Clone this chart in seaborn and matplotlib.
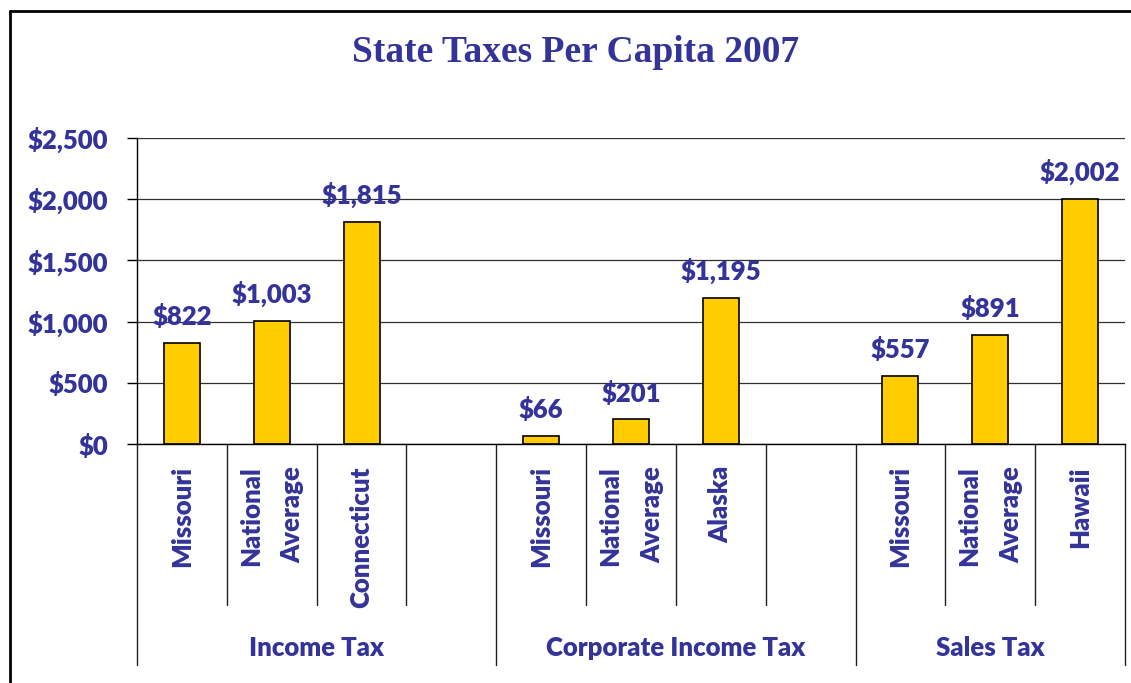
import numpy as np
import pandas as pd
import matplotlib.pyplot as plt
import matplotlib.transforms as mtransforms
from matplotlib.lines import Line2D
import seaborn as sns

# data
groups = ["Income Tax", "Corporate Income Tax", "Sales Tax"]
group_slots = [4, 4, 3]
states = ["Missouri", "National\nAverage", "Connecticut", "",
          "Missouri", "National\nAverage", "Alaska", "",
          "Missouri", "National\nAverage", "Hawaii"]
values = [822, 1003, 1815, np.nan,
          66, 201, 1195, np.nan,
          557, 891, 2002]
yticks = [0, 500, 1000, 1500, 2000, 2500]

navy = "#333399"
gold = "#FFCC00"
fs = 18.5

sns.set_theme(style="white")
plt.rcParams["font.family"] = ["Lato", "DejaVu Sans"]

slot_ids = [f"s{i}" for i in range(len(states))]
df = pd.DataFrame({"slot": slot_ids, "value": values})

fig = plt.figure(figsize=(11.31, 6.83), dpi=100)
ax = fig.add_axes([137 / 1131, 1 - 444 / 683, 988 / 1131, 306 / 683])

sns.barplot(data=df, x="slot", y="value", order=slot_ids, color=gold,
            width=0.4, edgecolor="black", linewidth=1.2, saturation=1, ax=ax)

ax.set_xlim(-0.5, len(states) - 0.5)
ax.set_ylim(0, 2500)
ax.set_yticks(yticks)
ax.set_yticklabels([f"${v:,}" for v in yticks], color=navy,
                   fontsize=fs, fontweight="heavy")
ax.tick_params(axis="y", length=7, width=1, color="black", left=True, pad=14)
ax.set_xticks([])
ax.set_xlabel("")
ax.set_ylabel("")
ax.yaxis.grid(True, color="#303030", linewidth=0.9)
ax.set_axisbelow(True)
for s in ["top", "right"]:
    ax.spines[s].set_visible(False)
ax.spines["left"].set_color("black")
ax.spines["bottom"].set_color("black")
ax.spines["left"].set_linewidth(1)
ax.spines["bottom"].set_linewidth(1)

# value labels
for i, v in enumerate(values):
    if np.isnan(v):
        continue
    ax.annotate(f"${v:,.0f}", (i, v), xytext=(0, 10), textcoords="offset points",
                ha="center", va="bottom", color=navy, fontsize=fs,
                fontweight="heavy")

# category labels and separators below the axis
trans = mtransforms.blended_transform_factory(ax.transData, fig.transFigure)
y_axis = 1 - 444 / 683
y_short = 1 - 605 / 683
y_long = 1 - 665 / 683
for i, lab in enumerate(states):
    if lab:
        ax.text(i, 1 - 466 / 683, lab, transform=trans, rotation=90,
                ha="center", va="top", multialignment="right",
                linespacing=1.9, color=navy, fontsize=fs, fontweight="heavy")

start = 0
bounds = [-0.5]
for n in group_slots:
    for k in range(1, n):
        x = start + k - 0.5
        ax.plot([x, x], [y_axis, y_short], transform=trans, color="#202020",
                lw=1, clip_on=False)
    start += n
    bounds.append(start - 0.5)
for x in bounds:
    ax.plot([x, x], [y_axis, y_long], transform=trans, color="#202020",
            lw=1, clip_on=False)
for g, a, b in zip(groups, bounds[:-1], bounds[1:]):
    ax.text((a + b) / 2, 1 - 648 / 683, g, transform=trans, ha="center",
            va="center", color=navy, fontsize=fs, fontweight="heavy")

# title
fig.text(576 / 1131, 1 - 52 / 683, "State Taxes Per Capita 2007",
         ha="center", va="center", color=navy, fontsize=27, fontweight="bold",
         family=["Liberation Serif", "DejaVu Serif"])

# outer frame (left and top edges only are inside the picture)
x0 = 9.5 / 1131
y0 = 1 - 10.5 / 683
fig.add_artist(Line2D([x0, x0], [0, y0], transform=fig.transFigure,
                      color="black", lw=2))
fig.add_artist(Line2D([x0, 1], [y0, y0], transform=fig.transFigure,
                      color="black", lw=2))

fig.savefig("out.png", dpi=100)
